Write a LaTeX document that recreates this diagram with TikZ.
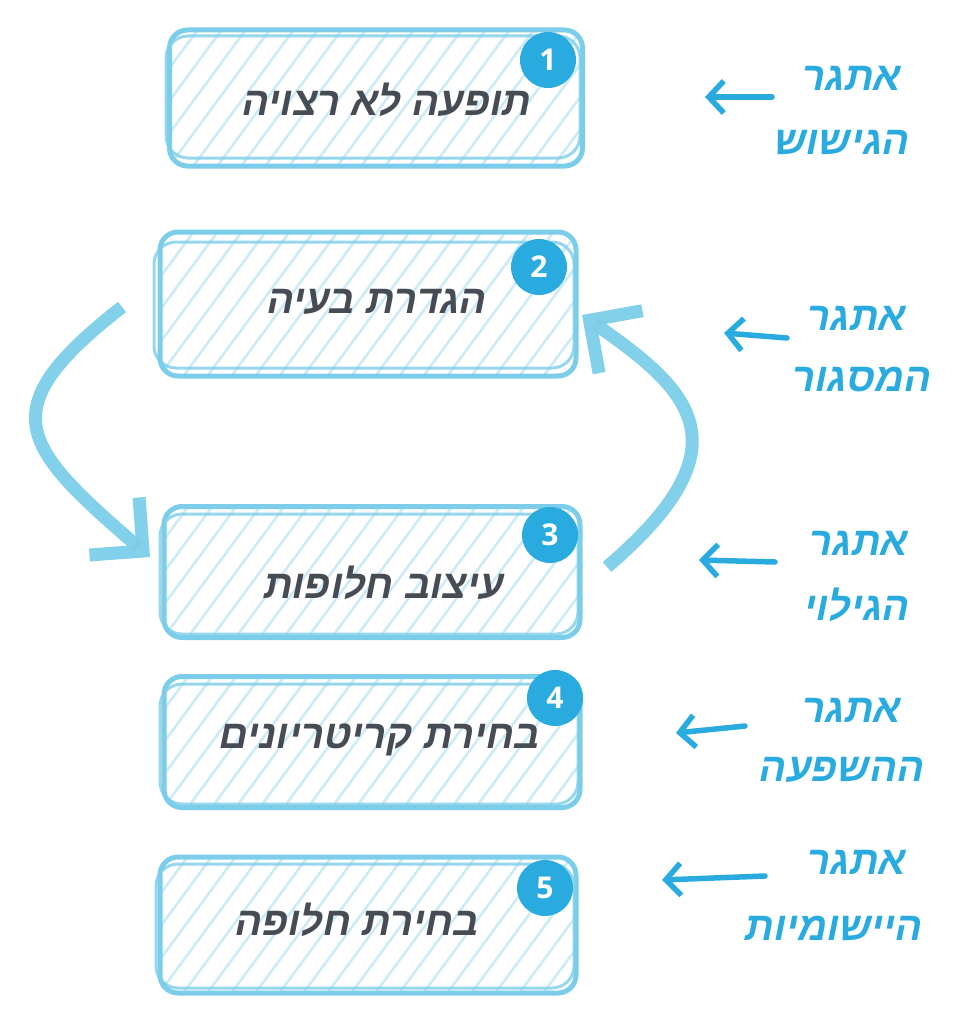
\documentclass[tikz,border=0pt]{standalone}
\usepackage{fontspec}
\newfontfamily\hebfont[Script=Hebrew,FakeSlant=0.2]{Liberation Sans Bold}
\newfontfamily\numfont{Open Sans Bold}
\TeXXeTstate=1
\usetikzlibrary{arrows.meta}
\definecolor{boxblue}{HTML}{7CCDE9}
\definecolor{hatchblue}{HTML}{CDEBF7}
\definecolor{cyanb}{HTML}{29ABE0}
\definecolor{txtgray}{HTML}{474C54}
\tikzset{
  stepbox/.style={draw=boxblue, line width=5pt, rounded corners=18pt, rectangle, inner sep=0pt},
  sketch/.style={draw=boxblue, line width=3pt, rounded corners=22pt, opacity=0.8},
  htext/.style={font=\hebfont\fontsize{40}{46}\selectfont, text=txtgray},
  lab/.style={font=\hebfont\fontsize{40}{46}\selectfont, text=cyanb},
  badge/.style={circle, fill=cyanb, text=white, minimum size=56pt, inner sep=0pt, font=\numfont\fontsize{30}{34}\selectfont},
  flow/.style={draw=boxblue, line width=13pt, opacity=0.95, -{Straight Barb[length=38pt,width=76pt]}},
  chal/.style={draw=cyanb, line width=5.5pt, line cap=round, -{Straight Barb[length=15pt,width=32pt]}},
}
\newcommand\hatchbox[4]{%
  \begin{scope}
    \clip[rounded corners=16pt] (#1,#2) rectangle (#3,#4);
    \foreach \i in {-200,-176,...,520}
      \draw[hatchblue, line width=2.6pt] (#1+\i,#4+10) -- ++(140,-190);
  \end{scope}}
\begin{document}
\begin{tikzpicture}[x=1pt,y=-1pt]
\useasboundingbox (0,0) rectangle (959,1022);

% ---------- boxes ----------
\hatchbox{170}{30}{583}{166}
\node[stepbox, minimum width=413pt, minimum height=136pt] (box1) at (376,98) {};
\draw[sketch] (166,36) rectangle (580,158);
\node[htext] (t1) at (385,100) {\beginR תופעה לא רצויה\endR};
\node[badge] (b1) at (548,60) {1};

\hatchbox{160}{232}{576}{376}
\node[stepbox, minimum width=416pt, minimum height=144pt] (box2) at (368,304) {};
\draw[sketch] (154,242) rectangle (574,368);
\node[htext] (t2) at (375,302) {\beginR הגדרת בעיה\endR};
\node[badge] (b2) at (539,267) {2};

\hatchbox{164}{507}{580}{638}
\node[stepbox, minimum width=416pt, minimum height=131pt] (box3) at (372,572) {};
\draw[sketch] (160,514) rectangle (578,634);
\node[htext] (t3) at (382,583) {\beginR עיצוב חלופות\endR};
\node[badge] (b3) at (550,535) {3};

\hatchbox{164}{677}{580}{808}
\node[stepbox, minimum width=416pt, minimum height=131pt] (box4) at (372,742) {};
\draw[sketch] (160,684) rectangle (578,804);
\node[htext] (t4) at (378,740) {\beginR בחירת קריטריונים\endR};
\node[badge] (b4) at (555,698) {4};

\hatchbox{160}{857}{576}{993}
\node[stepbox, minimum width=416pt, minimum height=136pt] (box5) at (368,925) {};
\draw[sketch] (156,864) rectangle (574,988);
\node[htext] (t5) at (355,920) {\beginR בחירת חלופה\endR};
\node[badge] (b5) at (545,888) {5};

% ---------- loop arrows ----------
\coordinate (l2) at (122,307);
\coordinate (l3) at (150,557);
\draw[flow] (l2) .. controls (-10,410) and (20,445) .. (l3);
\coordinate (r3) at (607,567);
\coordinate (r2) at (582,315);
\draw[flow] (r3) .. controls (750,445) and (690,390) .. (r2);

% ---------- challenges ----------
\node[lab] (c1a) at (850,78) {\beginR אתגר\endR};
\node[lab] (c1b) at (840,142) {\beginR הגישוש\endR};
\coordinate (a1s) at (772,97); \coordinate (a1e) at (705,97);
\draw[chal] (a1s) -- (a1e);

\node[lab] (c2a) at (855,318) {\beginR אתגר\endR};
\node[lab] (c2b) at (860,380) {\beginR המסגור\endR};
\coordinate (a2s) at (787,338); \coordinate (a2e) at (724,333);
\draw[chal] (a2s) -- (a2e);

\node[lab] (c3a) at (857,543) {\beginR אתגר\endR};
\node[lab] (c3b) at (855,605) {\beginR הגילוי\endR};
\coordinate (a3s) at (775,562); \coordinate (a3e) at (699,560);
\draw[chal] (a3s) -- (a3e);

\node[lab] (c4a) at (850,710) {\beginR אתגר\endR};
\node[lab] (c4b) at (840,770) {\beginR ההשפעה\endR};
\coordinate (a4s) at (745,726); \coordinate (a4e) at (676,733);
\draw[chal] (a4s) -- (a4e);

\node[lab] (c5a) at (855,862) {\beginR אתגר\endR};
\node[lab] (c5b) at (832,928) {\beginR היישומיות\endR};
\coordinate (a5s) at (765,876); \coordinate (a5e) at (662,880);
\draw[chal] (a5s) -- (a5e);
\end{tikzpicture}
\end{document}
